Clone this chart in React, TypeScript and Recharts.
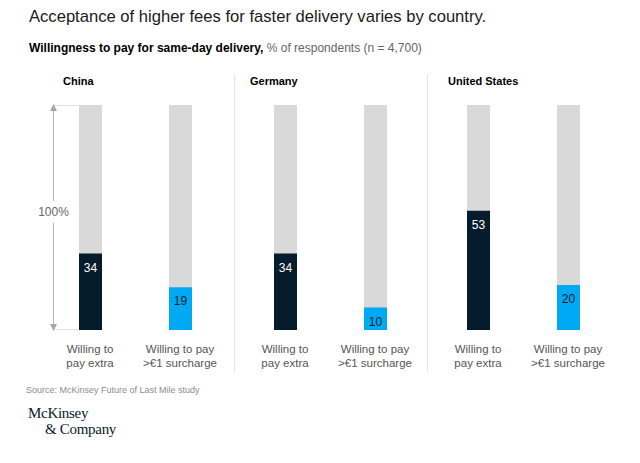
import { BarChart, Bar, XAxis, YAxis, Cell, LabelList } from 'recharts'

const countries = ['China', 'Germany', 'United States']
const categories = ['Willing to pay extra', 'Willing to pay >€1 surcharge']
const tickLines = [['Willing to', 'pay extra'], ['Willing to pay', '>€1 surcharge']]
const willingExtra = [34, 34, 53]
const willingSurcharge = [19, 10, 20]

const COLORS = ['#051c2c', '#00a9f4']
const LABEL_COLORS = ['#ffffff', '#051c2c']
const FONT = '"Liberation Sans", Arial, sans-serif'
const SERIF = '"Liberation Serif", "DejaVu Serif", serif'

// plot-area left edge of each panel
const PANEL_LEFT = [44.5, 239.5, 432.5]
const COUNTRY_X = [63, 250, 448]

const PlotTick = (props: any) => {
  const { x, y, payload } = props
  const idx = categories.indexOf(payload.value)
  const lines = tickLines[idx] || [payload.value]
  return (
    <text x={x} y={y} textAnchor="middle" fontSize={11.5} fill="#555" fontFamily={FONT}>
      {lines.map((l, i) => (
        <tspan key={i} x={x} dy={i === 0 ? 23 : 14}>{l}</tspan>
      ))}
    </text>
  )
}

const ValueLabel = (props: any) => {
  const { x, y, width, value, index } = props
  return (
    <text x={x + width / 2} y={y + 18} textAnchor="middle" fontSize={12} fill={LABEL_COLORS[index]} fontFamily={FONT}>
      {value}
    </text>
  )
}

function Panel({ i }: { i: number }) {
  const data = [
    { name: categories[0], value: willingExtra[i] },
    { name: categories[1], value: willingSurcharge[i] },
  ]
  return (
    <div style={{ position: 'absolute', left: PANEL_LEFT[i], top: 105 }}>
      <BarChart width={180} height={265} data={data} margin={{ top: 0, right: 0, bottom: 0, left: 0 }}>
        <XAxis dataKey="name" axisLine={false} tickLine={false} tickSize={0} tickMargin={0} height={40} interval={0} tick={<PlotTick />} />
        <YAxis hide type="number" domain={[0, 100]} />
        <Bar dataKey="value" barSize={23} background={{ fill: '#d9d9d9' }} isAnimationActive={false}>
          {data.map((d, j) => (
            <Cell key={d.name} fill={COLORS[j]} />
          ))}
          <LabelList dataKey="value" content={<ValueLabel />} />
        </Bar>
      </BarChart>
    </div>
  )
}

export default function App() {
  return (
    <div style={{ position: 'absolute', left: 0, top: 0, width: 640, height: 463, background: '#fff', fontFamily: FONT, overflow: 'hidden' }}>
      <div style={{ position: 'absolute', left: 29, top: 9, fontSize: 16.6, lineHeight: 1, color: '#1a1a1a', whiteSpace: 'nowrap' }}>
        Acceptance of higher fees for faster delivery varies by country.
      </div>
      <div style={{ position: 'absolute', left: 29, top: 42.3, fontSize: 12, lineHeight: 1, whiteSpace: 'nowrap' }}>
        <span style={{ fontWeight: 700, color: '#000' }}>Willingness to pay for same-day delivery,</span>
        <span style={{ color: '#666' }}> % of respondents (n = 4,700)</span>
      </div>

      {countries.map((c, i) => (
        <div key={c} style={{ position: 'absolute', left: COUNTRY_X[i], top: 76, fontSize: 11, fontWeight: 700, lineHeight: 1, color: '#000', whiteSpace: 'nowrap' }}>
          {c}
        </div>
      ))}

      <div style={{ position: 'absolute', left: 234, top: 74, width: 1, height: 298, background: '#e6e6e6' }} />
      <div style={{ position: 'absolute', left: 427, top: 74, width: 1, height: 298, background: '#e6e6e6' }} />

      <svg width={640} height={463} style={{ position: 'absolute', left: 0, top: 0 }}>
        <line x1={53} x2={78} y1={105.5} y2={105.5} stroke="#e0e0e0" />
        <line x1={53} x2={78} y1={329.5} y2={329.5} stroke="#e0e0e0" />
        <line x1={53.5} x2={53.5} y1={109} y2={201} stroke="#b3b3b3" />
        <line x1={53.5} x2={53.5} y1={223} y2={326} stroke="#b3b3b3" />
        <polygon points="53.5,104 50,111 57,111" fill="#a6a6a6" />
        <polygon points="53.5,331 50,324 57,324" fill="#a6a6a6" />
        <text x={53.5} y={216} textAnchor="middle" fontSize={12} fill="#666" fontFamily={FONT}>100%</text>
      </svg>

      {PANEL_LEFT.map((_, i) => (
        <Panel key={i} i={i} />
      ))}

      <div style={{ position: 'absolute', left: 26, top: 386, fontSize: 9, lineHeight: 1, color: '#8c8c8c', whiteSpace: 'nowrap' }}>
        Source: McKinsey Future of Last Mile study
      </div>
      <div style={{ position: 'absolute', left: 28, top: 406, fontSize: 15, lineHeight: 1, color: '#051c2c', fontFamily: SERIF, letterSpacing: -0.3, whiteSpace: 'nowrap' }}>
        McKinsey
      </div>
      <div style={{ position: 'absolute', left: 45, top: 421.5, fontSize: 15, lineHeight: 1, color: '#051c2c', fontFamily: SERIF, letterSpacing: -0.3, whiteSpace: 'nowrap' }}>
        &amp; Company
      </div>
    </div>
  )
}
